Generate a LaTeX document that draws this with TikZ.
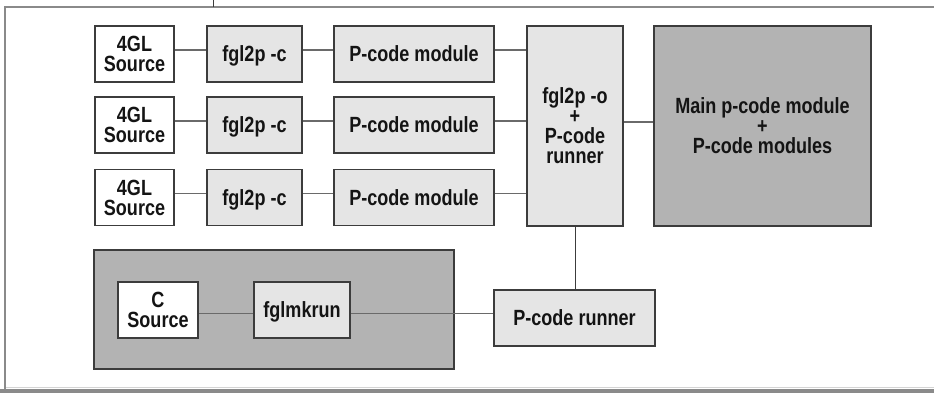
\documentclass[tikz,border=0pt]{standalone}
\usepackage{fontspec}
\setmainfont{Liberation Sans}[FakeStretch=0.82]
\usetikzlibrary{calc}
\definecolor{lightfill}{HTML}{E5E5E5}
\definecolor{darkfill}{HTML}{B3B3B3}
\definecolor{boxedge}{HTML}{3C3C3C}
\definecolor{linkcol}{HTML}{6A6A6A}
\definecolor{framecol}{HTML}{8A8A8A}
\definecolor{framelight}{HTML}{D4D4D4}
\definecolor{textcol}{HTML}{141414}
\begin{document}
\begin{tikzpicture}[x=1pt,y=-1pt,
  box/.style={draw=boxedge, line width=1.1pt, inner sep=0pt, align=center,
    text depth=0pt, text=textcol, font=\bfseries\fontsize{22}{20}\selectfont},
  srcbox/.style={box, fill=white, minimum height=56pt},
  procbox/.style={box, fill=lightfill, minimum height=56pt},
  bigbox/.style={box, fill=darkfill},
  link/.style={draw=linkcol, line width=1.8pt},
  thinlink/.style={draw=boxedge, line width=0.9pt},
  frameline/.style={draw=framecol, line width=2pt}]
\useasboundingbox (0,0) rectangle (934,393);
% outer frame
\coordinate (ftl) at (5,7.5);
\coordinate (ftr) at (934,7.5);
\coordinate (fbl) at (5,390);
\coordinate (tickTop) at (213,0);
\coordinate (tickBot) at (213,7);
\fill[framecol] (0,389) rectangle (934,393);
\draw[framelight, line width=1pt] (5,387.5) -- (934,387.5);
\draw[frameline] (ftr) -- (ftl) -- (fbl);
\draw[thinlink] (tickTop) -- (tickBot);

% container for C part
\node[bigbox, minimum width=360pt, minimum height=119pt] (cont) at (274,309.5) {};

% rows
\node[srcbox, minimum width=79pt] (s1) at (134.5,54) {4GL\\Source};
\node[procbox, minimum width=95pt] (f1) at (254.5,54) {fgl2p -c};
\node[procbox, minimum width=160pt] (p1) at (414,54) {P-code module};
\node[srcbox, minimum width=79pt] (s2) at (134.5,125) {4GL\\Source};
\node[procbox, minimum width=95pt] (f2) at (254.5,125) {fgl2p -c};
\node[procbox, minimum width=160pt] (p2) at (414,125) {P-code module};
\node[srcbox, minimum width=79pt] (s3) at (134.5,197.5) {4GL\\Source};
\node[procbox, minimum width=95pt] (f3) at (254.5,197.5) {fgl2p -c};
\node[procbox, minimum width=160pt] (p3) at (414,197.5) {P-code module};

\node[procbox, minimum width=96pt, minimum height=200pt] (O) at (575,126) {fgl2p -o\\+\\P-code\\runner};
\node[bigbox, minimum width=217pt, minimum height=200pt] (M) at (762.5,126) {Main p-code module\\+\\P-code modules};

\node[srcbox, minimum width=80pt] (cs) at (158,310) {C\\Source};
\node[procbox, minimum width=96pt] (fk) at (302,310) {fglmkrun};
\node[procbox, minimum width=161pt] (R) at (574.5,318) {P-code runner};

% connectors
\foreach \i in {1,2,3}{
  \draw[link] ([yshift=4pt]s\i.east) -- ([yshift=4pt]f\i.west);
  \draw[link] ([yshift=4pt]f\i.east) -- ([yshift=4pt]p\i.west);
  \draw[link] ([yshift=4pt]p\i.east) -- ($(p\i.east -| O.west)+(0,-4)$);
}
\draw[link] ([yshift=4pt]O.east) -- ([yshift=4pt]M.west);
\draw[link] ([yshift=-3.5pt]cs.east) -- ([yshift=-3.5pt]fk.west);
\draw[link] ([yshift=-3.5pt]fk.east) -- ([yshift=4.5pt]R.west);
\draw[thinlink] (O.south) -- (O.south |- R.north);
\end{tikzpicture}
\end{document}
